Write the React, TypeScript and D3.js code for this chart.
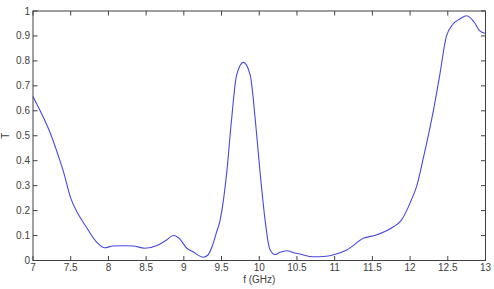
import React from "react";
import * as d3 from "d3";

const freq = [7.0, 7.09, 7.23, 7.34, 7.4, 7.5, 7.6, 7.69, 7.84, 7.95, 8.06, 8.2, 8.33, 8.48, 8.66, 8.77, 8.86, 8.93, 9.04, 9.12, 9.26, 9.32, 9.38, 9.43, 9.48, 9.57, 9.63, 9.7, 9.79, 9.88, 9.95, 10.01, 10.08, 10.14, 10.21, 10.27, 10.36, 10.49, 10.54, 10.71, 10.89, 11.0, 11.16, 11.38, 11.55, 11.78, 11.88, 12.02, 12.09, 12.17, 12.31, 12.39, 12.48, 12.57, 12.66, 12.75, 12.86, 12.92, 13.0];
const trans = [0.657, 0.603, 0.51, 0.416, 0.36, 0.25, 0.185, 0.142, 0.075, 0.051, 0.058, 0.059, 0.058, 0.049, 0.062, 0.082, 0.1, 0.091, 0.049, 0.035, 0.013, 0.022, 0.06, 0.11, 0.16, 0.356, 0.556, 0.743, 0.794, 0.743, 0.556, 0.356, 0.156, 0.045, 0.024, 0.032, 0.039, 0.029, 0.026, 0.015, 0.017, 0.024, 0.042, 0.089, 0.102, 0.135, 0.16, 0.245, 0.3, 0.403, 0.603, 0.737, 0.897, 0.948, 0.968, 0.981, 0.951, 0.921, 0.91];
const xTicks = [7, 7.5, 8, 8.5, 9, 9.5, 10, 10.5, 11, 11.5, 12, 12.5, 13];
const yTicks = [0, 0.1, 0.2, 0.3, 0.4, 0.5, 0.6, 0.7, 0.8, 0.9, 1];
const xLabel = "f (GHz)";
const yLabel = "T";

export default function App() {
  const W = 494, H = 289;
  const L = 33, R = 485.5, T = 11, B = 260.5;
  const x = d3.scaleLinear().domain([7, 13]).range([L, R]);
  const y = d3.scaleLinear().domain([0, 1]).range([B, T]);
  const data = freq.map((f, i) => [f, trans[i]] as [number, number]);
  const line = d3.line<[number, number]>().x(d => x(d[0])).y(d => y(d[1])).curve(d3.curveMonotoneX);
  const axisColor = "#404040";
  const textColor = "#404040";
  const font = "'Liberation Sans', Arial, sans-serif";
  const tl = 4.5;
  return (
    <svg width={W} height={H} style={{ position: "absolute", left: 0, top: 0, background: "#fff" }}>
      <rect x={0} y={0} width={W} height={H} fill="#fff" />
      <path d={line(data) || ""} fill="none" stroke="#4848e0" strokeWidth={1.1} />
      <rect x={L} y={T} width={R - L} height={B - T} fill="none" stroke={axisColor} strokeWidth={1} />
      {xTicks.map(t => (
        <g key={"x" + t}>
          <line x1={x(t)} x2={x(t)} y1={B} y2={B - tl} stroke={axisColor} />
          <line x1={x(t)} x2={x(t)} y1={T} y2={T + tl} stroke={axisColor} />
          <text x={x(t)} y={271} textAnchor="middle" fontFamily={font} fontSize={10} fill={textColor}>{t}</text>
        </g>
      ))}
      {yTicks.map(t => (
        <g key={"y" + t}>
          <line x1={L} x2={L + tl} y1={y(t)} y2={y(t)} stroke={axisColor} />
          <line x1={R} x2={R - tl} y1={y(t)} y2={y(t)} stroke={axisColor} />
          <text x={30} y={y(t) + 3.5} textAnchor="end" fontFamily={font} fontSize={10} fill={textColor}>{t}</text>
        </g>
      ))}
      <text x={(L + R) / 2} y={283} textAnchor="middle" fontFamily={font} fontSize={10} fill={textColor}>{xLabel}</text>
      <text transform={`translate(9,${(T + B) / 2}) rotate(-90)`} textAnchor="middle" fontFamily={font} fontSize={10} fill={textColor}>{yLabel}</text>
    </svg>
  );
}
